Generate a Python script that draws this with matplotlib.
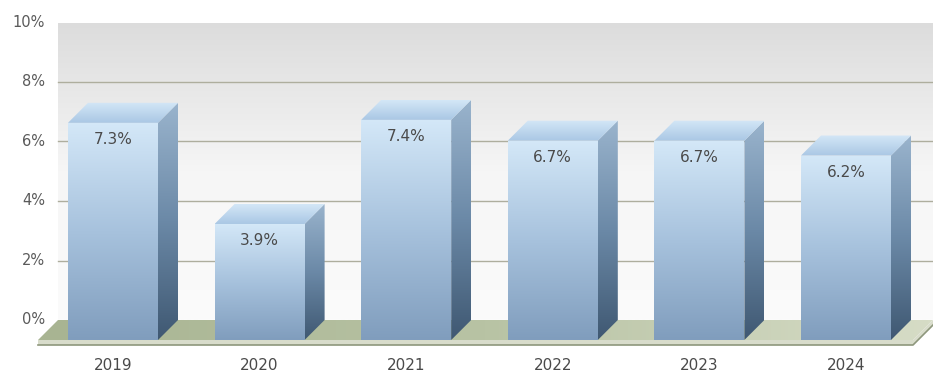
import numpy as np
import matplotlib.pyplot as plt
from matplotlib.patches import Polygon
from matplotlib.colors import LinearSegmentedColormap

years = ["2019", "2020", "2021", "2022", "2023", "2024"]
rates = [7.3, 3.9, 7.4, 6.7, 6.7, 6.2]
y_ticks = [0, 2, 4, 6, 8, 10]

# pixel layout of the original (933x375)
W, H = 933, 375
PX_CAT = 146.6      # px between bars
PX_UNIT = 29.75     # px per 1 %
X0_PX, Y0_PX = 113, 340  # centre of first bar / front floor line
DEPTH_PX = 20

dx = DEPTH_PX / PX_CAT
dy = DEPTH_PX / PX_UNIT
hw = 45 / PX_CAT

plt.rcParams["font.family"] = "DejaVu Sans"

fig = plt.figure(figsize=(W / 100, H / 100), dpi=100)
ax = fig.add_axes([0, 0, 1, 1])
ax.set_xlim(-X0_PX / PX_CAT, (W - X0_PX) / PX_CAT)
ax.set_ylim((Y0_PX - H) / PX_UNIT, Y0_PX / PX_UNIT)
ax.axis("off")


def grad_fill(poly_pts, colors, extent, vertical=True, z=1):
    cmap = LinearSegmentedColormap.from_list("g", colors)
    g = np.linspace(0, 1, 256)
    img = g.reshape(-1, 1) if vertical else g.reshape(1, -1)
    poly = Polygon(poly_pts, closed=True, facecolor="none", edgecolor="none", zorder=z)
    ax.add_patch(poly)
    im = ax.imshow(img, cmap=cmap, extent=extent, origin="lower", aspect="auto",
                   interpolation="bilinear", zorder=z)
    im.set_clip_path(poly)


x_left = (38 - X0_PX) / PX_CAT
x_right = (913 - X0_PX) / PX_CAT
ymax = y_ticks[-1]

# back wall
wall = [(x_left + dx, dy), (x_right + dx, dy), (x_right + dx, ymax + dy), (x_left + dx, ymax + dy)]
grad_fill(wall, ["#fbfbfb", "#f6f6f6", "#dcdcdc"], [x_left + dx, x_right + dx, dy, ymax + dy], z=0)

for t in y_ticks[1:-1]:
    ax.plot([x_left + dx, x_right + dx], [t + dy, t + dy], color="#aeae9e", lw=1, zorder=1)
for t in y_ticks:
    ax.text((45 - X0_PX) / PX_CAT, t + dy, f"{t}%", ha="right", va="center",
            fontsize=10.5, color="#5a5a5a", zorder=5)

# floor
floor = [(x_left, 0), (x_right, 0), (x_right + dx, dy), (x_left + dx, dy)]
grad_fill(floor, ["#a8b492", "#b8c3a4", "#d6dcc6"], [x_left, x_right + dx, 0, dy],
          vertical=False, z=2)
slab = 5 / PX_UNIT
ax.add_patch(Polygon([(x_left, -slab), (x_right, -slab), (x_right + dx, dy - slab),
                      (x_right + dx, dy), (x_right, 0), (x_left, 0)],
                     facecolor="#d8dccb", edgecolor="none", zorder=2))
ax.plot([x_left, x_right, x_right + dx], [-slab, -slab, dy - slab],
        color="#8e977c", lw=1.2, zorder=2)

# bars
for i, (yr, v) in enumerate(zip(years, rates)):
    xl, xr = i - hw, i + hw
    front = [(xl, 0), (xr, 0), (xr, v), (xl, v)]
    grad_fill(front, ["#809dbd", "#a7c2dd", "#d4e8f8"], [xl, xr, 0, v], z=3)
    side = [(xr, 0), (xr + dx, dy), (xr + dx, v + dy), (xr, v)]
    grad_fill(side, ["#3f5872", "#6b89a7", "#9ab4cd"], [xr, xr + dx, 0, v + dy], z=3)
    top = [(xl, v), (xr, v), (xr + dx, v + dy), (xl + dx, v + dy)]
    grad_fill(top, ["#a9c7e4", "#d4e7f7"], [xl, xr + dx, v, v + dy], z=3)
    ax.text(i, v - 17 / PX_UNIT, f"{v}%", ha="center", va="center",
            fontsize=11, color="#4a4a4a", zorder=6)
    ax.text(i, (Y0_PX - 366) / PX_UNIT, yr, ha="center", va="center",
            fontsize=11, color="#4a4a4a", zorder=6)

fig.savefig("out.png", dpi=100)
